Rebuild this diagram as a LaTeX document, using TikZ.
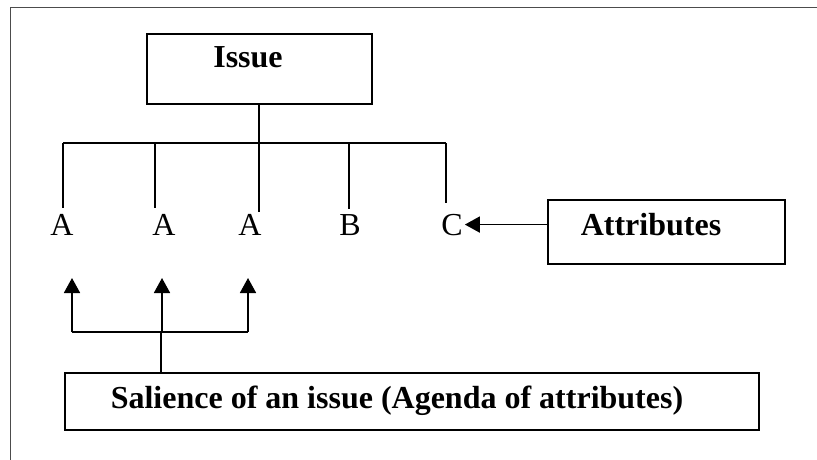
\documentclass[tikz,border=0pt]{standalone}
\usepackage{fontspec}
\setmainfont{Liberation Serif}
\usetikzlibrary{arrows.meta}

\begin{document}
\begin{tikzpicture}[x=1pt,y=-1pt,
  box/.style={draw, line width=1.9pt, inner sep=0pt},
  boldtext/.style={font=\fontsize{32}{38}\selectfont\bfseries, anchor=base, inner sep=0pt},
  letter/.style={font=\fontsize{32}{38}\selectfont, anchor=base, inner sep=2pt},
  link/.style={line width=1.8pt},
  arr/.style={line width=1.8pt, -{Triangle[length=15pt,width=16pt]}}]

  \useasboundingbox (0,0) rectangle (817,460);

  % page frame
  \draw[line width=0.9pt, black!70] (10,460) -- (10,7) -- (817,7);

  % boxes
  \node[box, minimum width=225pt, minimum height=70pt] (issue) at (259.5,69) {};
  \node[boldtext] (issuetxt) at (248,68) {Issue};

  \node[box, minimum width=237pt, minimum height=64pt] (attr) at (666.5,232) {};
  \node[boldtext] (attrtxt) at (651,235) {Attributes};

  \node[box, minimum width=694pt, minimum height=57pt] (sal) at (412,401.5) {};
  \node[boldtext] (saltxt) at (397,408) {Salience of an issue (Agenda of attributes)};

  % attribute letters
  \node[letter] (a1) at (62,235) {A};
  \node[letter] (a2) at (164,235) {A};
  \node[letter] (a3) at (250,235) {A};
  \node[letter] (b)  at (350,235) {B};
  \node[letter] (c)  at (452,235) {C};

  % tree from the issue down to the attributes
  \coordinate (d1) at (63,143);
  \coordinate (d2) at (155,143);
  \coordinate (d3) at (259,143);
  \coordinate (d4) at (349,143);
  \coordinate (d5) at (446,143);
  \draw[link] (d1) -- (d5);
  \draw[link] (issue.south -| d3) -- (d3) -- (d3 |- 0,212);
  \draw[link] (d1) -- (d1 |- 0,208);
  \draw[link] (d2) -- (d2 |- 0,208);
  \draw[link] (d4) -- (d4 |- 0,209);
  \draw[link] (d5) -- (d5 |- 0,203);

  % attributes label points to C
  \draw[arr] (attr.west |- c.east) -- (c.east);

  % salience bracket pointing up to the A attributes
  \coordinate (j)  at (161,332);
  \coordinate (b1) at (72,332);
  \coordinate (b2) at (162,332);
  \coordinate (b3) at (248,332);
  \coordinate (t1) at (72,278);
  \coordinate (t2) at (162,278);
  \coordinate (t3) at (248,278);
  \draw[link] (j |- sal.north) -- (j);
  \draw[link] (b1) -- (b3);
  \draw[arr] (b1) -- (t1);
  \draw[arr] (b2) -- (t2);
  \draw[arr] (b3) -- (t3);
\end{tikzpicture}
\end{document}
